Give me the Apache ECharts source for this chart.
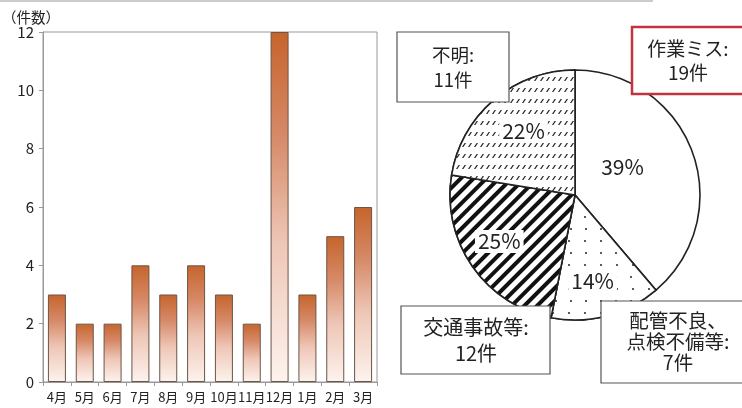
<!DOCTYPE html>
<html>
<head>
<meta charset="utf-8">
<script src="https://cdn.jsdelivr.net/npm/echarts@6/dist/echarts.min.js"></script>
<style>
html,body{margin:0;padding:0;background:#fff;}
#c{width:742px;height:408px;}
</style>
</head>
<body>
<div id="c"></div>
<script>
// ---- data ----
const months = ['4月','5月','6月','7月','8月','9月','10月','11月','12月','1月','2月','3月'];
const monthlyCounts = [3,2,2,4,3,4,3,2,12,3,5,6];
const yTicks = [0,2,4,6,8,10,12];
const causeNames = ['作業ミス','配管不良、\n点検不備等','交通事故等','不明'];
const causeCounts = [19,7,12,11];
const causePercents = [39,14,25,22];

const JP = '"Noto Sans CJK JP", "Noto Sans", sans-serif';

const chart = echarts.init(document.getElementById('c'), null, {renderer:'canvas'});

const decals = [
  null,
  {symbol:'circle', symbolSize:1, dashArrayX:[[2,13],[0,7.5,2,5.5]], dashArrayY:[2,10], color:'#222', backgroundColor:'#fff'},
  {symbol:'rect', symbolSize:1, dashArrayX:[1,0], dashArrayY:[3.5,4.2], rotation:-Math.PI/4, color:'#111', backgroundColor:'#fff'},
  {symbol:'path://M2.6,0 L4,0 L1.4,4 L0,4 Z', symbolSize:1, dashArrayX:[4,1.3], dashArrayY:[3.5,6.5], color:'#222', backgroundColor:'#fff'}
];
const labelOffsets = [[-14,-5],[1,23],[-22,9],[-9,-14]];

const pieData = causeNames.map((n,i)=>({
  name:n, value:causeCounts[i],
  itemStyle: decals[i] ? {decal: decals[i]} : {},
  label:{offset:labelOffsets[i]}
}));

// callout boxes (annotation layout)
const boxes = [
  {x:632, y:27, w:115, h:67, stroke:'#c23340', lw:2.5, lh:24, fs:19},
  {x:601, y:301, w:150, h:82, stroke:'#555', lw:1.2, lh:21, fs:19.5},
  {x:401, y:306, w:149, h:68, stroke:'#555', lw:1.2, lh:26, fs:20},
  {x:397, y:32, w:112, h:70, stroke:'#555', lw:1.2, lh:25, fs:18.5}
];
const textCenters = [688, 678, 476, 453];

const graphics = [
  {type:'line', shape:{x1:0,y1:1,x2:653,y2:1}, style:{stroke:'#bbb', lineWidth:1.5}, z:1}
];
causeNames.forEach((n,i)=>{
  const b = boxes[i];
  graphics.push({
    type:'rect', z:50,
    shape:{x:b.x, y:b.y, width:b.w, height:b.h},
    style:{fill:'#fff', stroke:b.stroke, lineWidth:b.lw}
  });
  graphics.push({
    type:'text', z:51,
    x:textCenters[i], y:b.y + b.h/2,
    style:{
      text: n + ':\n' + causeCounts[i] + '件',
      fill:'#222', font: b.fs + 'px ' + JP, lineHeight:b.lh,
      align:'center', verticalAlign:'middle'
    }
  });
});

const option = {
  animation:false,
  backgroundColor:'#fff',
  title:{
    text:'（件数）', left:-3, top:5,
    textStyle:{fontFamily:JP, fontSize:14.5, fontWeight:'normal', color:'#222'}
  },
  grid:{left:43, right:365, top:32, bottom:26, show:true, borderColor:'#999', borderWidth:1},
  xAxis:{
    type:'category', data:months,
    axisLine:{lineStyle:{color:'#999'}},
    axisTick:{show:true, length:4, lineStyle:{color:'#999'}},
    axisLabel:{color:'#222', fontFamily:JP, fontSize:13, margin:9, interval:0}
  },
  yAxis:{
    type:'value', min:yTicks[0], max:yTicks[yTicks.length-1], interval:2,
    axisLine:{show:true, lineStyle:{color:'#999'}},
    axisTick:{show:true, length:4, lineStyle:{color:'#999'}},
    splitLine:{show:false},
    axisLabel:{color:'#222', fontFamily:JP, fontSize:15, margin:9}
  },
  series:[
    {
      type:'bar', data:monthlyCounts, barWidth:18,
      itemStyle:{
        borderColor:'#6b5548', borderWidth:1,
        color:new echarts.graphic.LinearGradient(0,0,0,1,[
          {offset:0, color:'#c6642c'},
          {offset:0.3, color:'#d68a68'},
          {offset:0.6, color:'#eec6b6'},
          {offset:1, color:'#fdf3ee'}
        ])
      }
    },
    {
      type:'pie', center:[575,195], radius:125, startAngle:90, clockwise:true,
      data:pieData,
      itemStyle:{color:'#fff', borderColor:'#222', borderWidth:1.6},
      label:{
        show:true, position:'inside',
        formatter:(p)=>causePercents[p.dataIndex] + '%',
        fontFamily:JP, fontSize:21, fontWeight:'normal', color:'#222',
        backgroundColor:'#fff', padding:[1,3]
      },
      labelLine:{show:false},
      emphasis:{disabled:true}
    }
  ],
  graphic:graphics
};
chart.setOption(option);
</script>
</body>
</html>
